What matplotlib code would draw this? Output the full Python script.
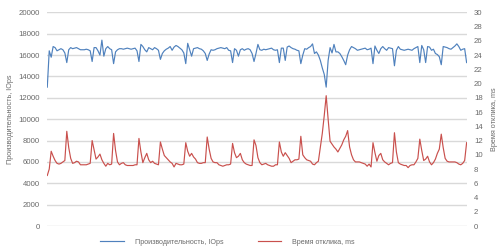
import numpy as np
import matplotlib
matplotlib.use("Agg")
import matplotlib.pyplot as plt

plt.rcParams['font.family'] = ['Liberation Sans', 'DejaVu Sans']

# hourly samples, 9 days
iops = [
    13000, 16400, 15800, 16800, 16700, 16400, 16500, 16600, 16500, 16200,
    15300, 16500, 16700, 16600, 16650, 16700, 16600, 16500, 16500, 16500,
    16550, 16500, 16400, 15400, 16700, 16700, 16400, 16000, 17400, 15900,
    16600, 16800, 16600, 16500, 15200, 16300, 16500, 16600, 16600, 16550,
    16600, 16650, 16600, 16550, 16600, 16650, 16400, 15400, 17000, 16800,
    16500, 16300, 16700, 16600, 16500, 16700, 16600, 16450, 15600, 16150,
    16400, 16550, 16650, 16800, 16450, 16750, 16900, 16800, 16650, 16500,
    16200, 15200, 17100, 16500, 15900, 16600, 16650, 16700, 16600, 16550,
    16400, 16150, 15500, 16100, 16500, 16450, 16500, 16600, 16650, 16700,
    16650, 16600, 16700, 16450, 16400, 15300, 16600, 16450, 15900, 16500,
    16600, 16450, 16550, 16600, 16500, 16150, 15400, 16150, 17000, 16500,
    16450, 16550, 16500, 16550, 16600, 16650, 16500, 16450, 16500, 15300,
    16650, 16650, 15500, 16750, 16850, 16700, 16600, 16550, 16450, 16400,
    15200, 16000, 16600, 16550, 16700, 16800, 17050, 16150, 16300, 16000,
    15500, 14800, 14200, 13000, 15500, 16700, 16200, 17000, 16300, 16300,
    16150, 15850, 15500, 15100, 16000, 16500, 16800, 16700, 16600, 16450,
    16500, 16550, 16600, 16650, 16500, 16550, 16650, 15200, 16850, 16450,
    16150, 16600, 16800, 16600, 16450, 16700, 16650, 16600, 15000, 16450,
    16800, 16550, 16500, 16450, 16500, 16550, 16500, 16450, 16600, 16700,
    16800, 15300, 16900, 16500, 15300, 16800, 16750, 16450, 16550, 16150,
    16050, 15850, 15100, 16800, 16750, 16700, 16600, 16550, 16700, 16850,
    17050, 16800, 16450, 16550, 16600, 15300,
]

latency = [
    7.1, 8.0, 10.5, 9.8, 9.2, 8.8, 8.7, 8.8, 9.0, 9.2,
    13.3, 11.0, 9.5, 8.8, 8.9, 9.1, 9.0, 8.6, 8.6, 8.6,
    8.6, 8.7, 8.8, 12.0, 10.7, 9.4, 9.7, 10.1, 9.3, 8.8,
    8.4, 8.8, 8.6, 8.7, 13.0, 10.6, 9.0, 8.6, 8.8, 8.9,
    8.6, 8.5, 8.5, 8.5, 8.5, 8.6, 8.6, 12.3, 10.4, 8.9,
    9.6, 10.2, 9.3, 8.9, 9.1, 8.8, 8.7, 8.6, 11.8, 10.8,
    9.9, 9.6, 9.3, 9.0, 8.8, 8.3, 8.8, 8.7, 8.6, 8.6,
    8.7, 11.7, 10.5, 9.8, 10.2, 9.7, 9.4, 8.9, 8.8, 8.8,
    8.9, 8.9, 12.5, 10.8, 9.5, 9.0, 8.9, 8.9, 8.6, 8.5,
    8.4, 8.5, 8.6, 8.6, 8.7, 11.6, 10.3, 9.6, 9.8, 10.2,
    9.3, 8.9, 8.7, 8.6, 8.5, 8.5, 12.1, 11.3, 9.6, 8.9,
    8.6, 8.7, 8.8, 8.6, 8.5, 8.4, 8.4, 8.6, 8.6, 11.8,
    10.4, 9.8, 10.3, 9.9, 9.5, 8.9, 9.1, 9.3, 9.3, 9.4,
    12.6, 10.0, 9.6, 9.3, 9.2, 9.1, 8.7, 8.6, 8.9, 9.1,
    11.1, 13.0, 15.5, 18.3, 15.0, 11.9, 11.5, 11.1, 10.8, 10.4,
    10.9, 11.4, 12.1, 12.6, 13.4, 11.1, 10.0, 9.3, 9.0, 9.0,
    9.0, 8.9, 8.8, 8.7, 8.4, 8.7, 8.3, 11.7, 10.3, 9.1,
    9.9, 10.2, 9.3, 9.0, 8.8, 8.6, 8.8, 8.9, 13.1, 10.4,
    8.9, 8.7, 8.6, 8.5, 8.5, 8.2, 8.5, 8.6, 8.6, 9.0,
    9.5, 12.2, 10.6, 9.2, 9.4, 9.8, 9.0, 8.6, 8.9, 9.4,
    10.2, 10.8, 12.9, 11.0, 9.5, 9.1, 9.0, 9.0, 9.0, 9.0,
    8.9, 8.7, 8.6, 8.8, 9.2, 11.7,
]

iops_label = 'Производительность, IOps'
lat_label = 'Время отклика, ms'

blue = '#4F81BD'
red = '#C9504D'
txt = '#6A6A6A'
grid = '#D9D9D9'

x = np.arange(len(iops))

fig = plt.figure(figsize=(5, 2.52), dpi=100)
ax = fig.add_axes([0.0934, 0.103, 0.8406, 0.848])
ax2 = ax.twinx()

l1, = ax.plot(x, iops, color=blue, lw=0.85)
l2, = ax2.plot(x, latency, color=red, lw=0.85)

ax.set_xlim(-0.3, 215.2)
ax.set_ylim(0, 20000)
ax.set_yticks(np.arange(0, 20001, 2000))
ax2.set_ylim(0, 30)
ax2.set_yticks(np.arange(0, 31, 2))
ax.set_xticks([])

ax.yaxis.grid(True, color=grid, lw=1)
ax.set_axisbelow(True)
for a in (ax, ax2):
    for s in a.spines.values():
        s.set_visible(False)
    a.tick_params(axis='y', length=0, labelsize=5.6, colors=txt, pad=5)

ax.set_ylabel(iops_label, fontsize=5.2, color=txt, labelpad=3)
ax2.set_ylabel(lat_label, fontsize=5.2, color=txt, labelpad=6)

fig.legend([l1, l2], [iops_label, lat_label], loc='lower center',
           bbox_to_anchor=(0.455, 0.0), ncol=2, frameon=False,
           fontsize=5.1, labelcolor=txt, handlelength=3.3,
           handletextpad=1.6, columnspacing=4.8)

fig.savefig('out.png', dpi=100)
